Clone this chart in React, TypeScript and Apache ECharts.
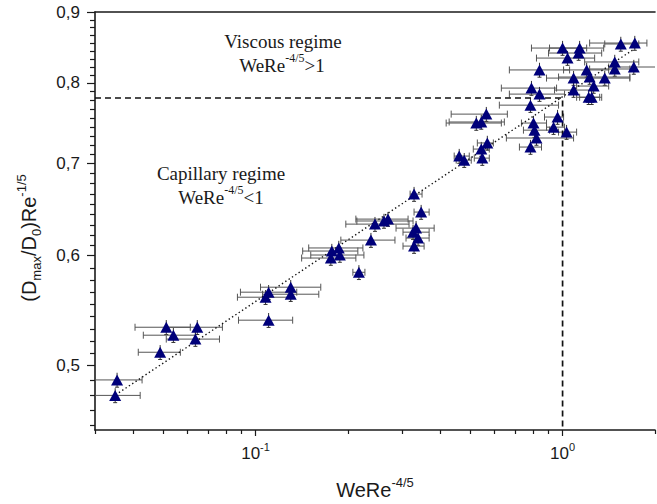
import React, { useEffect, useRef } from 'react';
import * as echarts from 'echarts';

// ---- data (WeRe^-4/5 vs (Dmax/D0)Re^-1/5) ----
const xVals = [
  0.0354, 0.0349, 0.0512, 0.0646, 0.054, 0.0637, 0.0489, 0.1103, 0.1078, 0.1103,
  0.1302, 0.1302, 0.1772, 0.1867, 0.1882, 0.1759, 0.2171, 0.2376, 0.2449, 0.262,
  0.27, 0.3283, 0.3462, 0.3333, 0.3258, 0.3384, 0.3283, 0.4606, 0.4783, 0.5477,
  0.5436, 0.5687, 0.5236, 0.5436, 0.5645, 0.7919, 0.8411, 0.786, 0.804, 0.81,
  0.8222, 0.786, 0.9631, 0.9346, 1.0306, 1.0, 1.1365, 1.128, 1.038, 0.8411,
  1.5476, 1.719, 1.479, 1.479, 1.706, 1.198, 1.225, 1.372, 1.086, 1.2627,
  1.086, 1.216, 1.244,
];
const yVals = [
  0.488, 0.4756, 0.5327, 0.5327, 0.5257, 0.5223, 0.511, 0.539, 0.56, 0.5647,
  0.5694, 0.5628, 0.6047, 0.6078, 0.6007, 0.5977, 0.5837, 0.6158, 0.6324, 0.6357,
  0.6377, 0.6648, 0.6452, 0.6282, 0.624, 0.6179, 0.6097, 0.7082, 0.7034, 0.7058,
  0.7165, 0.7238, 0.7482, 0.7495, 0.7594, 0.793, 0.7851, 0.7708, 0.7482, 0.7394,
  0.7298, 0.7189, 0.7557, 0.7431, 0.737, 0.8476, 0.8476, 0.8406, 0.8336, 0.8173,
  0.8534, 0.8547, 0.8282, 0.8186, 0.8213, 0.8173, 0.8077, 0.8063, 0.8063, 0.7957,
  0.7904, 0.781, 0.781,
];
const xLow = [
  0.028, 0.028, 0.0405, 0.0512, 0.0431, 0.0512, 0.0415, 0.088, 0.0873, 0.0893,
  0.1038, 0.1054, 0.1424, 0.149, 0.1513, 0.1413, 0.2075, 0.1896, 0.1968, 0.2138,
  0.2122, 0.3187, 0.3283, 0.2868, 0.3022, 0.3091, 0.3022, 0.4436, 0.4503, 0.5158,
  0.5119, 0.5277, 0.4177, 0.4272, 0.4337, 0.6318, 0.671, 0.6224, 0.7346, 0.7457,
  0.6561, 0.7236, 0.8733, 0.8866, 0.9703, 0.7919, 0.9068, 0.9, 0.8222, 0.671,
  1.372, 1.225, 1.18, 1.225, 1.413, 1.0076, 0.9703, 1.216, 0.8866, 1.111,
  0.9415, 1.111, 1.1365,
];
const xHigh = [
  0.0427, 0.0421, 0.0613, 0.078, 0.0637, 0.0763, 0.0569, 0.1321, 0.1302, 0.1362,
  0.1631, 0.1607, 0.2154, 0.2237, 0.2254, 0.2122, 0.2271, 0.2845, 0.3162, 0.3258,
  0.3139, 0.3486, 0.3676, 0.3817, 0.3676, 0.3676, 0.354, 0.4967, 0.5042, 0.5772,
  0.5772, 0.5951, 0.6318, 0.6462, 0.6609, 0.956, 1.015, 0.9703, 0.8866, 0.9068,
  1.086, 0.8539, 1.0076, 1.015, 1.111, 1.198, 1.361, 1.341, 1.272, 1.054,
  1.771, 1.882, 1.771, 1.656, 2.1, 1.413, 1.656, 1.656, 1.244, 1.413,
  1.244, 1.321, 1.341,
];
const yErrRel = 0.012;

const fitLine = [
  [0.035, 0.476],
  [1.72, 0.847],
];
const regimeX = 1;
const regimeY = 0.78;

const xRange = [0.03, 2];
const yRange = [0.449, 0.9];

const xMajorTicks = [0.1, 1];
const xMajorLabels = ['{b|10}{s|-1}', '{b|10}{s|0}'];
const xMinorTicks = [
  0.03, 0.04, 0.05, 0.06, 0.07, 0.08, 0.09, 0.2, 0.3, 0.4, 0.5, 0.6, 0.7, 0.8, 0.9, 2,
];
const yMajorTicks = [0.5, 0.6, 0.7, 0.8, 0.9];
const yMajorLabels = ['0,5', '0,6', '0,7', '0,8', '0,9'];
const yMinorLowerBound = 0.4;
const yMinorPerInterval = 8;

const lg = (v: number) => Math.log10(v);

const SANS = '"Liberation Sans", Arial, sans-serif';
const SERIF = '"Liberation Serif", "Times New Roman", serif';
const INK = '#1a1a1a';

export default function App() {
  const ref = useRef<HTMLDivElement>(null);

  useEffect(() => {
    if (!ref.current) return;
    const chart = echarts.init(ref.current, undefined, { renderer: 'svg' });

    const yMinor: number[] = [];
    const bounds = [yMinorLowerBound, ...yMajorTicks];
    for (let i = 0; i < bounds.length - 1; i++) {
      const a = lg(bounds[i]);
      const b = lg(bounds[i + 1]);
      for (let k = 1; k <= yMinorPerInterval; k++) {
        const v = a + (k * (b - a)) / (yMinorPerInterval + 1);
        if (v >= lg(yRange[0])) yMinor.push(v);
      }
    }

    const xMin = lg(xRange[0]);
    const xMax = lg(xRange[1]);
    const yMin = lg(yRange[0]);
    const yMax = lg(yRange[1]);

    const axisLine = { show: true, onZero: false, lineStyle: { color: INK, width: 1.6 } };
    const tickLine = { color: INK, width: 1.2 };

    const errData = xVals.map((x, i) => [
      lg(x),
      lg(yVals[i]),
      lg(xLow[i]),
      lg(xHigh[i]),
      lg(yVals[i] * (1 - yErrRel)),
      lg(yVals[i] * (1 + yErrRel)),
    ]);
    const ptData = xVals.map((x, i) => [lg(x), lg(yVals[i])]);

    const option: any = {
      animation: false,
      backgroundColor: '#ffffff',
      grid: {
        left: 95,
        right: 2,
        top: 12,
        bottom: 74,
        containLabel: false,
        outerBoundsMode: 'none',
      },
      xAxis: [
        {
          type: 'value',
          position: 'bottom',
          min: xMin,
          max: xMax,
          axisLine,
          axisTick: {
            show: true,
            inside: false,
            length: 6,
            customValues: xMajorTicks.map(lg),
            lineStyle: tickLine,
          },
          axisLabel: {
            customValues: xMajorTicks.map(lg),
            margin: 11,
            formatter: (v: number) => {
              const i = xMajorTicks.findIndex((t) => Math.abs(lg(t) - v) < 1e-6);
              return i >= 0 ? xMajorLabels[i] : '';
            },
            rich: {
              b: { fontSize: 17, lineHeight: 24, fontFamily: SANS, color: INK },
              s: { fontSize: 11, lineHeight: 11, verticalAlign: 'top', fontFamily: SANS, color: INK },
            },
          },
          splitLine: { show: false },
          name: 'WeRe{s|-4/5}',
          nameLocation: 'middle',
          nameGap: 46,
          nameTextStyle: {
            fontSize: 20,
            lineHeight: 28,
            fontFamily: SANS,
            color: INK,
            rich: {
              s: { fontSize: 13, lineHeight: 13, verticalAlign: 'top', fontFamily: SANS, color: INK },
            },
          },
        },
        {
          type: 'value',
          position: 'top',
          min: xMin,
          max: xMax,
          axisLine,
          axisTick: { show: false },
          axisLabel: { show: false },
          splitLine: { show: false },
        },
        {
          type: 'value',
          position: 'bottom',
          min: xMin,
          max: xMax,
          axisLine: { show: false, onZero: false },
          axisTick: { show: true, inside: false, length: 4, customValues: xMinorTicks.map(lg), lineStyle: tickLine },
          axisLabel: { show: false },
          splitLine: { show: false },
        },
      ],
      yAxis: [
        {
          type: 'value',
          position: 'left',
          min: yMin,
          max: yMax,
          axisLine,
          axisTick: {
            show: true,
            inside: false,
            length: 8,
            customValues: yMajorTicks.map(lg),
            lineStyle: tickLine,
          },
          axisLabel: {
            customValues: yMajorTicks.map(lg),
            margin: 15,
            fontSize: 17,
            fontFamily: SANS,
            color: INK,
            formatter: (v: number) => {
              const i = yMajorTicks.findIndex((t) => Math.abs(lg(t) - v) < 1e-6);
              return i >= 0 ? yMajorLabels[i] : '';
            },
          },
          splitLine: { show: false },
          name: '(D{sub|max}/D{sub|0})Re{sup|-1/5}',
          nameLocation: 'middle',
          nameRotate: 90,
          nameGap: 52,
          nameTextStyle: {
            fontSize: 20,
            lineHeight: 28,
            fontFamily: SANS,
            color: INK,
            padding: [0, 34, 0, 0],
            rich: {
              sub: { fontSize: 13, lineHeight: 13, verticalAlign: 'bottom', fontFamily: SANS, color: INK },
              sup: { fontSize: 13, lineHeight: 13, verticalAlign: 'top', fontFamily: SANS, color: INK },
            },
          },
        },
        {
          type: 'value',
          position: 'left',
          min: yMin,
          max: yMax,
          axisLine: { show: false, onZero: false },
          axisTick: { show: true, inside: false, length: 5, customValues: yMinor, lineStyle: tickLine },
          axisLabel: { show: false },
          splitLine: { show: false },
        },
      ],
      series: [
        {
          type: 'custom',
          name: 'error bars',
          xAxisIndex: 0,
          yAxisIndex: 0,
          z: 1,
          data: errData,
          encode: { x: [0, 2, 3], y: [1, 4, 5] },
          renderItem: (params: any, api: any) => {
            const cs = params.coordSys;
            const left = cs.x;
            const right = cs.x + cs.width;
            const p = api.coord([api.value(0), api.value(1)]);
            const lo = api.coord([api.value(2), api.value(1)]);
            const hi = api.coord([api.value(3), api.value(1)]);
            const yl = api.coord([api.value(0), api.value(4)]);
            const yh = api.coord([api.value(0), api.value(5)]);
            const st = { stroke: '#555555', lineWidth: 1 };
            const cap = 3.5;
            const lx = Math.max(lo[0], left);
            const hx = Math.min(hi[0], right);
            const children: any[] = [
              { type: 'line', shape: { x1: lx, y1: p[1], x2: hx, y2: p[1] }, style: st },
              { type: 'line', shape: { x1: p[0], y1: yl[1], x2: p[0], y2: yh[1] }, style: { stroke: '#333', lineWidth: 1 } },
              { type: 'line', shape: { x1: p[0] - 2, y1: yl[1], x2: p[0] + 2, y2: yl[1] }, style: { stroke: '#333', lineWidth: 1 } },
            ];
            if (lo[0] >= left) {
              children.push({ type: 'line', shape: { x1: lo[0], y1: p[1] - cap, x2: lo[0], y2: p[1] + cap }, style: st });
            }
            if (hi[0] <= right) {
              children.push({ type: 'line', shape: { x1: hi[0], y1: p[1] - cap, x2: hi[0], y2: p[1] + cap }, style: st });
            }
            return { type: 'group', children };
          },
        },
        {
          type: 'line',
          name: 'regime limits',
          xAxisIndex: 0,
          yAxisIndex: 0,
          z: 2,
          symbol: 'none',
          silent: true,
          data: [
            [xMin, lg(regimeY)],
            [lg(regimeX), lg(regimeY)],
            [lg(regimeX), yMin],
          ],
          lineStyle: { color: '#111', width: 1.7, type: [6, 4] },
        },
        {
          type: 'line',
          name: 'fit',
          xAxisIndex: 0,
          yAxisIndex: 0,
          z: 2,
          symbol: 'none',
          silent: true,
          data: fitLine.map((d) => [lg(d[0]), lg(d[1])]),
          lineStyle: { color: '#111', width: 1.4, type: [1.4, 2.6] },
        },
        {
          type: 'scatter',
          name: 'data',
          xAxisIndex: 0,
          yAxisIndex: 0,
          z: 3,
          symbol: 'triangle',
          symbolSize: [12, 11],
          data: ptData,
          itemStyle: { color: '#00007a', opacity: 1 },
        },
      ],
      graphic: [
        {
          type: 'text',
          x: 283,
          y: 41,
          style: {
            text: 'Viscous regime',
            font: `19px ${SERIF}`,
            fill: INK,
            textAlign: 'center',
            textVerticalAlign: 'middle',
          },
        },
        {
          type: 'text',
          x: 282,
          y: 65,
          style: {
            text: '{n|WeRe}{s|-4/5}{n|>1}',
            textAlign: 'center',
            textVerticalAlign: 'middle',
            rich: {
              n: { fontSize: 19, lineHeight: 26, fontFamily: SERIF, fill: INK },
              s: { fontSize: 12, lineHeight: 12, verticalAlign: 'top', fontFamily: SERIF, fill: INK },
            },
          },
        },
        {
          type: 'text',
          x: 221,
          y: 173,
          style: {
            text: 'Capillary regime',
            font: `19px ${SERIF}`,
            fill: INK,
            textAlign: 'center',
            textVerticalAlign: 'middle',
          },
        },
        {
          type: 'text',
          x: 221,
          y: 197,
          style: {
            text: '{n|WeRe}{s|-4/5}{n|<1}',
            textAlign: 'center',
            textVerticalAlign: 'middle',
            rich: {
              n: { fontSize: 19, lineHeight: 26, fontFamily: SERIF, fill: INK },
              s: { fontSize: 12, lineHeight: 12, verticalAlign: 'top', fontFamily: SERIF, fill: INK },
            },
          },
        },
      ],
    };

    chart.setOption(option);
    return () => chart.dispose();
  }, []);

  return (
    <div
      ref={ref}
      style={{ position: 'absolute', left: 0, top: 0, width: 657, height: 504, background: '#fff' }}
    />
  );
}
